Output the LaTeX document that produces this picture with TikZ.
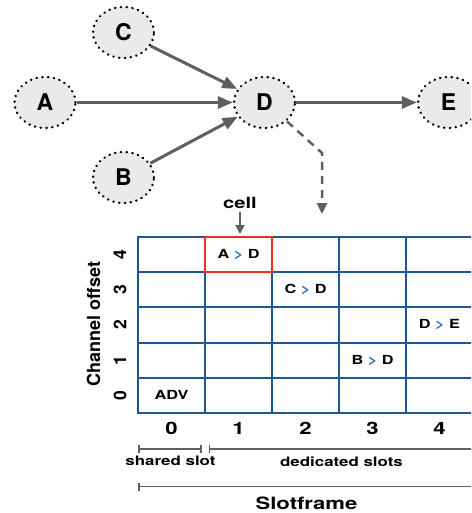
\documentclass[tikz,border=0pt]{standalone}
\usepackage{fontspec}
\setmainfont{TeX Gyre Heros}
\newfontfamily\widefont[FakeStretch=1.3]{TeX Gyre Heros}
\usetikzlibrary{shapes.geometric,arrows.meta}
\definecolor{gridblue}{RGB}{28,88,150}
\definecolor{cellred}{RGB}{232,52,30}
\definecolor{arrowgray}{RGB}{95,95,95}
\definecolor{nodefill}{RGB}{234,234,234}
\definecolor{gtblue}{RGB}{30,105,180}
\begin{document}
\begin{tikzpicture}[x=1pt,y=-1pt,
  graphnode/.style={ellipse, draw=black, fill=nodefill, line width=2.4pt,
    line cap=round, dash pattern=on 0.4pt off 5.4pt, minimum width=61pt, minimum height=51pt,
    inner sep=0pt, font=\fontsize{23}{23}\selectfont\bfseries},
  flow/.style={draw=arrowgray, line width=3pt, -{Triangle[length=15pt,width=12pt]}},
  dashflow/.style={draw=arrowgray, line width=2.5pt, dash pattern=on 8pt off 6pt,
    -{Triangle[length=11pt,width=10pt]}},
  gridline/.style={draw=gridblue, line width=2pt},
  celltext/.style={font=\widefont\fontsize{12.5}{12.5}\selectfont\bfseries, inner sep=0pt},
  axisnum/.style={font=\widefont\fontsize{17}{17}\selectfont\bfseries, inner sep=0pt},
  rownum/.style={font=\fontsize{17.5}{17.5}\selectfont\bfseries, inner sep=0pt, rotate=90},
  bracket/.style={draw=arrowgray, line width=1.5pt},
  smalllabel/.style={font=\widefont\fontsize{13}{13}\selectfont\bfseries, inner sep=0pt},
]
\useasboundingbox (0,0) rectangle (471,513);
\clip (0,0) rectangle (471,513);

% graph
\node[graphnode] (C) at (123.5,32.5) {C};
\node[graphnode] (A) at (45,102.5) {A};
\node[graphnode] (D) at (264.5,102.5) {D};
\node[graphnode] (E) at (448.5,102.5) {E};
\node[graphnode] (B) at (123.5,177.5) {B};

\draw[flow] (C) -- (D);
\draw[flow] (A) -- (D);
\draw[flow] (B) -- (D);
\draw[flow] (D) -- (E);

\coordinate (bend) at (322,153);
\coordinate (slotend) at (322,214);
\draw[dashflow] (D.south east) -- (bend) -- (slotend);

% cell label
\node[font=\widefont\fontsize{15.5}{15.5}\selectfont\bfseries, inner sep=0pt] (cell) at (240,202.5) {cell};
\coordinate (celltip) at (240,234);
\draw[draw=arrowgray, line width=2pt, -{Triangle[length=9pt,width=9pt]}] ([yshift=-4pt]cell.south) -- (celltip);

% grid
\foreach \x in {205,272,339,406,473} \draw[gridline] (\x,237) -- (\x,413);
\foreach \y in {272.2,307.4,342.6,377.8} \draw[gridline] (138,\y) -- (480,\y);
\draw[gridline] (480,237) -- (138,237) -- (138,413) -- (480,413);
\draw[draw=cellred, line width=2pt] (205,237) rectangle (272,272.2);

\node[celltext] (ad) at (238.5,254.6) {A \textcolor{gtblue}{>} D};
\node[celltext] (cd) at (305.5,289.8) {C \textcolor{gtblue}{>} D};
\node[celltext] (de) at (439.5,325) {D \textcolor{gtblue}{>} E};
\node[celltext] (bd) at (372.5,360.2) {B \textcolor{gtblue}{>} D};
\node[celltext] (adv) at (171.5,395.4) {ADV};

% row labels
\node[rownum] (r4) at (120,254.6) {4};
\node[rownum] (r3) at (120,289.8) {3};
\node[rownum] (r2) at (120,325) {2};
\node[rownum] (r1) at (120,360.2) {1};
\node[rownum] (r0) at (120,395.4) {0};
\node[font=\fontsize{18}{18}\selectfont\bfseries, inner sep=0pt, rotate=90] (chan) at (93.5,324) {Channel offset};

% column labels
\node[axisnum] (c0) at (171.5,428.8) {0};
\node[axisnum] (c1) at (238.5,428.8) {1};
\node[axisnum] (c2) at (305.5,428.8) {2};
\node[axisnum] (c3) at (372.5,428.8) {3};
\node[axisnum] (c4) at (439.5,428.8) {4};

% brackets
\coordinate (s0) at (138,449);
\coordinate (s1) at (201.5,449);
\coordinate (d0) at (208.5,449);
\coordinate (d1) at (480,449);
\coordinate (f0) at (138,486.5);
\coordinate (f1) at (480,486.5);
\draw[bracket, {Bar[width=8pt]}-{Bar[width=8pt]}] (s0) -- (s1);
\draw[bracket, {Bar[width=8pt]}-] (d0) -- (d1);
\draw[bracket, {Bar[width=8pt]}-] (f0) -- (f1);
\node[smalllabel] (shared) at (170.5,461.3) {shared slot};
\node[smalllabel] (dedic) at (341.5,461.3) {dedicated slots};
\node[font=\widefont\fontsize{17}{17}\selectfont\bfseries, inner sep=0pt] (sf) at (306.5,503.5) {Slotframe};
\end{tikzpicture}
\end{document}
